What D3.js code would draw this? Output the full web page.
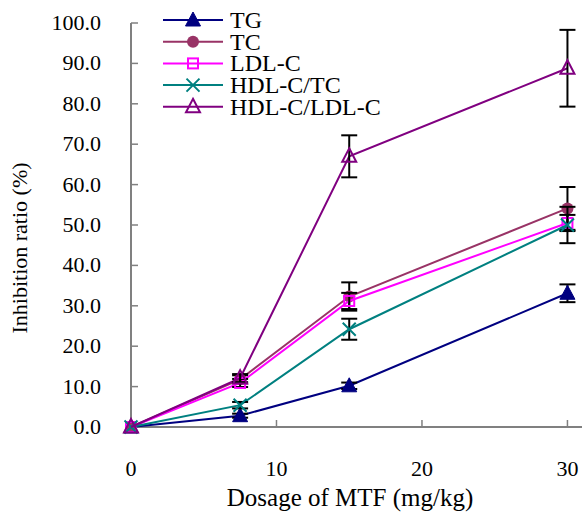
<!DOCTYPE html>
<html>
<head>
<meta charset="utf-8">
<script src="https://cdn.jsdelivr.net/npm/d3@7"></script>
<style>
    body { margin: 0; background: #fff; }
    svg text { font-family: "Liberation Serif", "Times New Roman", serif; fill: #000; }
</style>
</head>
<body>
<svg id="chart" width="583" height="513"></svg>
<script>
// doses (mg/kg)
let doses = [0, 7.5, 15, 30];

let seriesNames = ['TG', 'TC', 'LDL-C', 'HDL-C/TC', 'HDL-C/LDL-C'];

// inhibition ratio (%) per series
let tgValues = [0, 2.8, 10.2, 33.1];
let tcValues = [0, 11.8, 32.3, 54.1];
let ldlValues = [0, 10.9, 31.2, 50.5];
let hdlTcValues = [0, 5.4, 24.2, 50.0];
let hdlLdlValues = [0, 12.1, 67.0, 88.8];

// error bar half widths
let tgErr = [0, 0.5, 0.8, 2.2];
let tcErr = [0, 1.0, 3.5, 5.3];
let ldlErr = [0, 1.0, 2.0, 2.0];
let hdlTcErr = [0, 0.8, 2.6, 4.5];
let hdlLdlErr = [0, 1.0, 5.2, 9.5];

let xTicks = [0, 10, 20, 30];
let yTicks = [0, 10, 20, 30, 40, 50, 60, 70, 80, 90, 100];

let series = [
    {name: seriesNames[0], values: tgValues, err: tgErr, color: '#000080', marker: 'triFilled'},
    {name: seriesNames[1], values: tcValues, err: tcErr, color: '#993366', marker: 'circle'},
    {name: seriesNames[2], values: ldlValues, err: ldlErr, color: '#ff00ff', marker: 'square'},
    {name: seriesNames[3], values: hdlTcValues, err: hdlTcErr, color: '#008080', marker: 'cross'},
    {name: seriesNames[4], values: hdlLdlValues, err: hdlLdlErr, color: '#800080', marker: 'triOpen'},
];

let svg = d3.select('#chart');

let x = d3.scaleLinear().domain([0, 31]).range([131, 582]);
let y = d3.scaleLinear().domain([0, 100]).range([427, 23]);

let axisColor = '#808080';

// axes
svg.append('line')
    .attr('x1', x(0)).attr('x2', x(31))
    .attr('y1', y(0)).attr('y2', y(0))
    .attr('stroke', axisColor).attr('stroke-width', 2);
svg.append('line')
    .attr('x1', x(0)).attr('x2', x(0))
    .attr('y1', y(0)).attr('y2', y(100))
    .attr('stroke', axisColor).attr('stroke-width', 2);

svg.selectAll('.xtick').data(xTicks).enter().append('line')
    .attr('x1', d => x(d)).attr('x2', d => x(d))
    .attr('y1', y(0)).attr('y2', y(0) - 7)
    .attr('stroke', axisColor).attr('stroke-width', 1.5);
svg.selectAll('.ytick').data(yTicks).enter().append('line')
    .attr('x1', x(0)).attr('x2', x(0) + 7)
    .attr('y1', d => y(d)).attr('y2', d => y(d))
    .attr('stroke', axisColor).attr('stroke-width', 1.5);

svg.selectAll('.xlab').data(xTicks).enter().append('text')
    .attr('x', d => x(d)).attr('y', 476)
    .attr('text-anchor', 'middle')
    .style('font-size', '22px')
    .text(d => d);
svg.selectAll('.ylab').data(yTicks).enter().append('text')
    .attr('x', 101).attr('y', d => y(d) + 7)
    .attr('text-anchor', 'end')
    .style('font-size', '22px')
    .text(d => d.toFixed(1));

svg.append('text')
    .attr('x', 350).attr('y', 506)
    .attr('text-anchor', 'middle')
    .style('font-size', '25px')
    .text('Dosage of MTF (mg/kg)');
svg.append('text')
    .attr('transform', 'translate(27,248) rotate(-90)')
    .attr('text-anchor', 'middle')
    .style('font-size', '22px')
    .text('Inhibition ratio (%)');

function drawMarker(g, kind, color) {
    if (kind === 'triFilled') {
        g.append('path').attr('d', 'M0,-8L7.5,6L-7.5,6Z').attr('fill', color).attr('stroke', color).attr('stroke-width', 1);
    } else if (kind === 'triOpen') {
        g.append('path').attr('d', 'M0,-8L7,5.5L-7,5.5Z').attr('fill', 'none').attr('stroke', color).attr('stroke-width', 2);
    } else if (kind === 'circle') {
        g.append('circle').attr('r', 6).attr('fill', color);
    } else if (kind === 'square') {
        g.append('rect').attr('x', -5).attr('y', -5).attr('width', 10).attr('height', 10)
            .attr('fill', 'none').attr('stroke', color).attr('stroke-width', 2);
    } else if (kind === 'cross') {
        g.append('path').attr('d', 'M-6.5,-6.5L6.5,6.5M-6.5,6.5L6.5,-6.5').attr('stroke', color).attr('stroke-width', 2);
    }
}

let line = d3.line().x(d => x(d[0])).y(d => y(d[1]));

series.forEach(s => {
    let pts = doses.map((d, i) => [d, s.values[i], s.err[i]]);
    let g = svg.append('g');
    g.append('path')
        .attr('d', line(pts))
        .attr('fill', 'none')
        .attr('stroke', s.color)
        .attr('stroke-width', 2);
    let eb = g.selectAll('.err').data(pts.filter(p => p[2] > 0)).enter().append('g');
    eb.append('line')
        .attr('x1', p => x(p[0])).attr('x2', p => x(p[0]))
        .attr('y1', p => y(p[1] + p[2])).attr('y2', p => y(p[1] - p[2]))
        .attr('stroke', '#000').attr('stroke-width', 2);
    [1, -1].forEach(sign => {
        eb.append('line')
            .attr('x1', p => x(p[0]) - 8).attr('x2', p => x(p[0]) + 8)
            .attr('y1', p => y(p[1] + sign * p[2])).attr('y2', p => y(p[1] + sign * p[2]))
            .attr('stroke', '#000').attr('stroke-width', 2);
    });
    pts.forEach(p => {
        let m = g.append('g').attr('transform', `translate(${x(p[0])},${y(p[1])})`);
        drawMarker(m, s.marker, s.color);
    });
});

// legend
let legend = svg.append('g');
series.forEach((s, i) => {
    let ly = 20 + i * 21.7;
    let row = legend.append('g').attr('transform', `translate(0,${ly})`);
    row.append('line').attr('x1', 163).attr('x2', 223).attr('y1', 0).attr('y2', 0)
        .attr('stroke', s.color).attr('stroke-width', 2);
    drawMarker(row.append('g').attr('transform', 'translate(193,0)'), s.marker, s.color);
    row.append('text').attr('x', 230).attr('y', 8)
        .style('font-size', '24px')
        .text(s.name);
});
</script>
</body>
</html>
